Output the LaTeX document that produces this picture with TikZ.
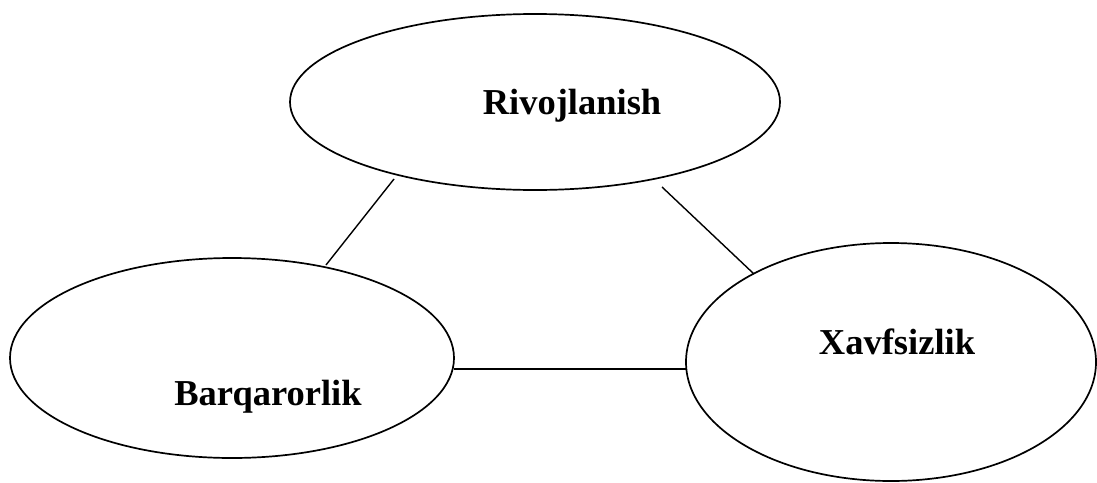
\documentclass[tikz,border=0pt]{standalone}
\usepackage{fontspec}
\setmainfont{Liberation Serif}
\usetikzlibrary{shapes.geometric}
\begin{document}
\begin{tikzpicture}[x=1pt,y=-1pt,
  oval/.style={draw,ellipse,line width=1.7pt,inner sep=0pt},
  lbl/.style={anchor=base,inner sep=0pt,font=\fontsize{36.5}{40}\selectfont\bfseries},
  link/.style={line width=1.4pt}]
\useasboundingbox (0,0) rectangle (1097,482);
\node[oval,minimum width=490pt,minimum height=176pt] (top) at (535,102) {};
\node[oval,minimum width=444pt,minimum height=200pt] (left) at (232,358) {};
\node[oval,minimum width=410pt,minimum height=238pt] (right) at (891,362) {};
\node[lbl] (ttop) at (572,114) {Rivojlanish};
\node[lbl] (tleft) at (268,405) {Barqarorlik};
\node[lbl] (tright) at (897,354) {Xavfsizlik};
\coordinate (a1) at (394,179);
\coordinate (a2) at (326,265);
\coordinate (b1) at (662,187);
\coordinate (b2) at (754,274);
\coordinate (c1) at (454,369);
\coordinate (c2) at (687,369);
\draw[link] (a1) -- (a2);
\draw[link] (b1) -- (b2);
\draw[link] (c1) -- (c2);
\end{tikzpicture}
\end{document}
